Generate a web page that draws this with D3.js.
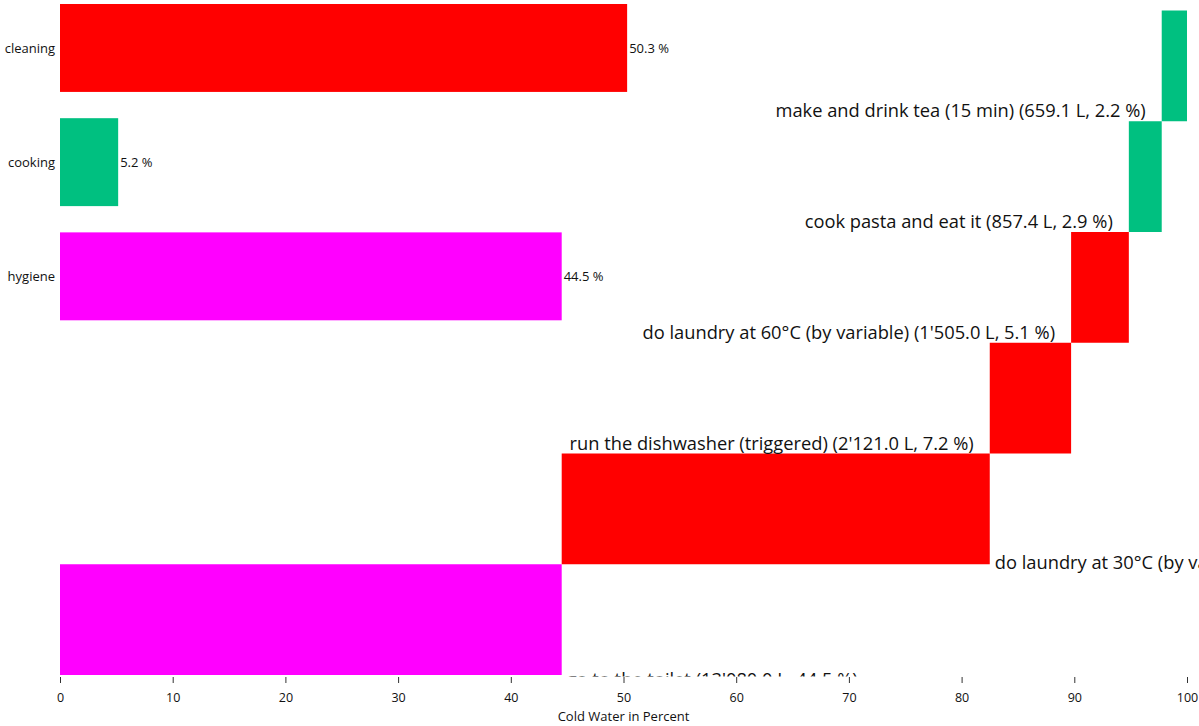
<!DOCTYPE html>
<html>
<head>
<meta charset="utf-8">
<script src="https://cdn.jsdelivr.net/npm/d3@7"></script>
<style>
  html, body { margin: 0; padding: 0; background: #fff; }
  svg { display: block; font-family: "Open Sans", "Noto Sans", sans-serif; }
</style>
</head>
<body>
<svg id="chart" width="1199" height="726"></svg>
<script>
// ---- data (activities listed bottom-to-top, cumulative order) ----
const activityNames = [
  "go to the toilet",
  "do laundry at 30°C (by variable)",
  "run the dishwasher (triggered)",
  "do laundry at 60°C (by variable)",
  "cook pasta and eat it",
  "make and drink tea (15 min)"
];
const activityLiters = [13080.0, 11160.0, 2121.0, 1505.0, 857.4, 659.1];
const activityCategory = ["hygiene", "cleaning", "cleaning", "cleaning", "cooking", "cooking"];

const categories = ["cleaning", "cooking", "hygiene"];
const categoryColors = ["#ff0000", "#00c080", "#ff00ff"];

const xTicks = [0, 10, 20, 30, 40, 50, 60, 70, 80, 90, 100];
const xTitle = "Cold Water in Percent";

// ---- derived ----
const total = d3.sum(activityLiters);
let cum = 0;
const activities = activityNames.map((name, i) => {
  const pct = activityLiters[i] / total * 100;
  const d = { name, liters: activityLiters[i], pct, start: cum, end: cum + pct, cat: activityCategory[i], idx: i };
  cum += pct;
  return d;
});
const catData = categories.map((c, i) => ({
  name: c,
  color: categoryColors[i],
  pct: d3.sum(activities.filter(a => a.cat === c), a => a.pct)
}));
const color = d3.scaleOrdinal().domain(categories).range(categoryColors);

const loc = d3.formatLocale({ decimal: ".", thousands: "'", grouping: [3], currency: ["", ""] });
const fmtL = loc.format(",.1f");
const fmtP = d3.format(".1f");

// ---- layout ----
const svg = d3.select("#chart");
const x = d3.scaleLinear().domain([0, 100]).range([60, 1187]);
const yAct = d3.scaleBand()
  .domain(activities.map(a => a.name).reverse())
  .range([10.5, 675])
  .padding(0);
const yCat = d3.scaleBand()
  .domain(categories)
  .range([0, 324.3])
  .paddingInner(0.23)
  .paddingOuter(0.035);

svg.append("defs").append("clipPath").attr("id", "plotclip")
  .append("rect").attr("x", 0).attr("y", 0).attr("width", 1199).attr("height", 676.5);

const plot = svg.append("g").attr("clip-path", "url(#plotclip)");

// waterfall bars
plot.selectAll("rect.act").data(activities).join("rect")
  .attr("class", "act")
  .attr("x", d => x(d.start))
  .attr("y", d => yAct(d.name))
  .attr("width", d => x(d.end) - x(d.start))
  .attr("height", yAct.bandwidth())
  .attr("fill", d => color(d.cat));

// waterfall labels
plot.selectAll("text.act").data(activities).join("text")
  .attr("class", "act")
  .attr("font-size", 18.3)
  .attr("fill", "#111")
  .attr("text-anchor", d => d.start > 50 ? "end" : "start")
  .attr("x", d => d.start > 50 ? x(d.start) - 16 : x(d.end) + 5)
  .attr("y", d => {
    const bottom = yAct(d.name) + yAct.bandwidth();
    if (d.start > 50) return bottom - 4;
    return bottom + (d.idx === 0 ? 11 : 5);
  })
  .text(d => `${d.name} (${fmtL(d.liters)} L, ${fmtP(d.pct)} %)`);

// category bars
svg.selectAll("rect.cat").data(catData).join("rect")
  .attr("class", "cat")
  .attr("x", x(0))
  .attr("y", d => yCat(d.name))
  .attr("width", d => x(d.pct) - x(0))
  .attr("height", yCat.bandwidth())
  .attr("fill", d => d.color);

svg.selectAll("text.catname").data(catData).join("text")
  .attr("class", "catname")
  .attr("font-size", 13)
  .attr("fill", "#111")
  .attr("text-anchor", "end")
  .attr("x", x(0) - 5)
  .attr("y", d => yCat(d.name) + yCat.bandwidth() / 2)
  .attr("dy", "0.35em")
  .text(d => d.name);

svg.selectAll("text.catval").data(catData).join("text")
  .attr("class", "catval")
  .attr("font-size", 13)
  .attr("fill", "#111")
  .attr("x", d => x(d.pct) + 2)
  .attr("y", d => yCat(d.name) + yCat.bandwidth() / 2)
  .attr("dy", "0.35em")
  .text(d => `${fmtP(d.pct)} %`);

// x axis
const axis = svg.append("g")
  .attr("transform", "translate(0,677)")
  .call(d3.axisBottom(x).tickValues(xTicks).tickSize(6).tickPadding(10).tickFormat(d3.format("d")));
axis.select(".domain").remove();
axis.selectAll(".tick line").attr("stroke", "#333");
axis.selectAll(".tick text").attr("font-size", 12.5).attr("fill", "#111")
  .attr("font-family", "\"Open Sans\", \"Noto Sans\", sans-serif");

svg.append("text")
  .attr("x", (x.range()[0] + x.range()[1]) / 2)
  .attr("y", 721)
  .attr("text-anchor", "middle")
  .attr("font-size", 13)
  .attr("fill", "#111")
  .text(xTitle);
</script>
</body>
</html>
